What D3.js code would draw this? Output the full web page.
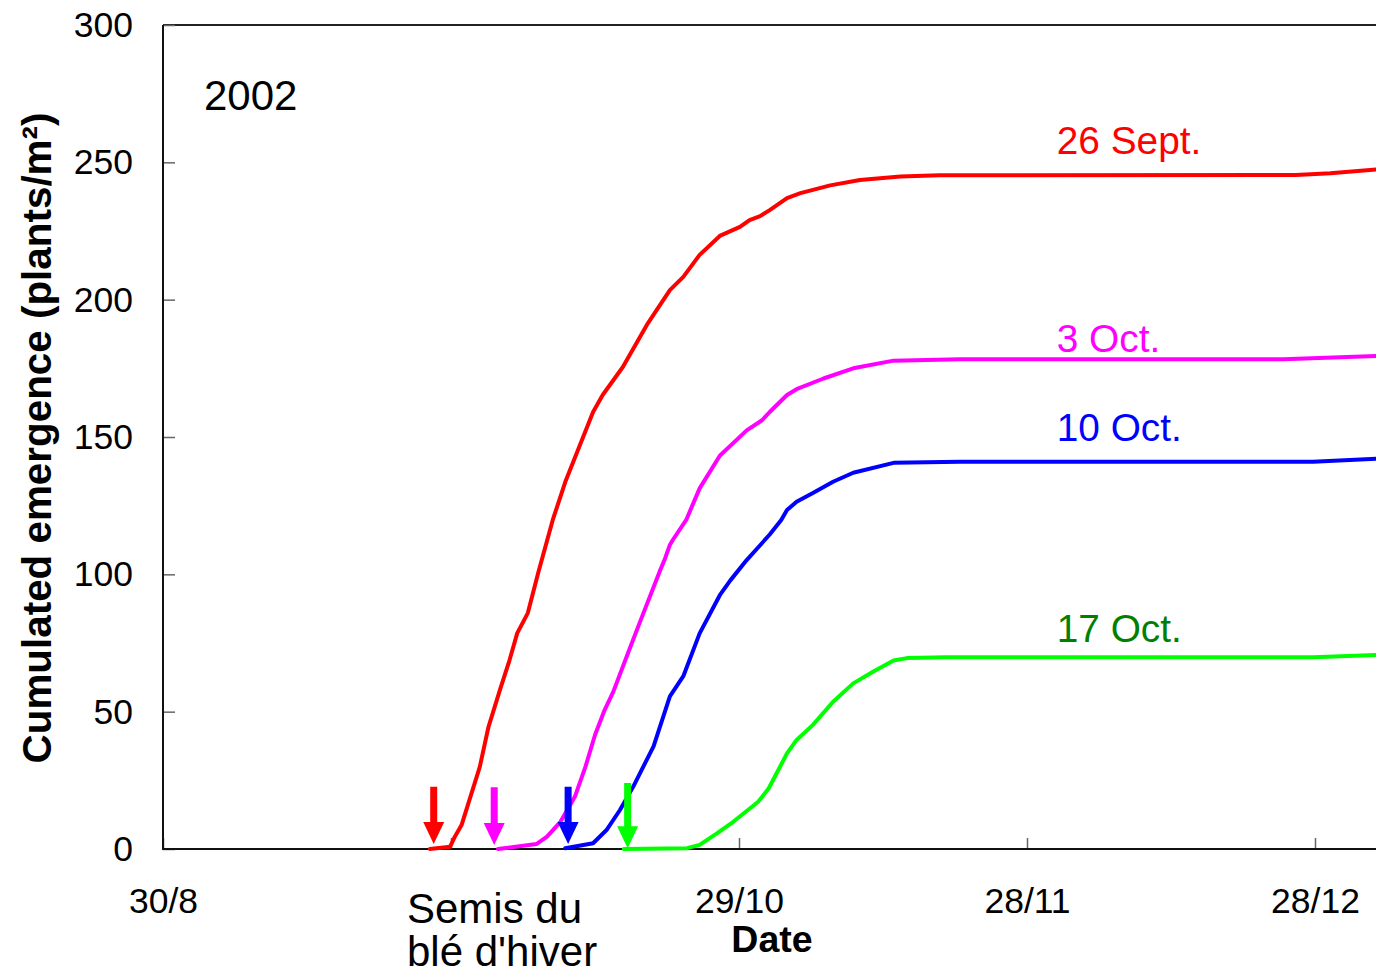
<!DOCTYPE html>
<html>
<head>
<meta charset="utf-8">
<script src="https://cdn.jsdelivr.net/npm/d3@7"></script>
<style>
  html, body { margin: 0; padding: 0; background: #fff; }
  svg { display: block; font-family: Arial, "Liberation Sans", sans-serif; }
</style>
</head>
<body>
<svg id="chart" width="1376" height="978"></svg>
<script>
// Cumulated emergence of plants (plants/m²) after winter wheat sowing, 2002.
// x values are days after 30 August 2002.

const xTickDays   = [0, 30, 60, 90, 120];
const xTickLabels = ["30/8", "", "29/10", "28/11", "28/12"];
const yTicks      = [0, 50, 100, 150, 200, 250, 300];

const seriesNames  = ["26 Sept.", "3 Oct.", "10 Oct.", "17 Oct."];
const lineColors   = ["#ff0000", "#ff00ff", "#0000ff", "#00ff00"];
const labelColors  = ["#ff0000", "#ff00ff", "#0000ff", "#008000"];

// sowing 26 Sept.
const sept26Days   = [27.8, 29.9, 30.4, 31.1, 33.0, 33.9, 35.1, 36.1, 36.9, 38.0, 39.1, 40.6, 41.9, 44.8, 45.8, 47.9, 50.4, 52.8, 54.2, 55.9, 58.0, 60.1, 61.1, 62.2, 63.2, 65.0, 66.4, 69.5, 72.6, 76.8, 80.9, 118.0, 121.6, 126.4];
const sept26Values = [0, 0.8, 4.5, 8.7, 29.9, 44.4, 57.9, 68.8, 78.6, 85.9, 100.8, 119.8, 133.6, 159.1, 165.3, 175.5, 190.8, 203.5, 208.3, 216.3, 223.2, 226.5, 229.0, 230.4, 232.6, 237.0, 238.8, 241.6, 243.6, 244.8, 245.3, 245.4, 246.0, 247.4];

// sowing 3 Oct.
const oct3Days   = [34.9, 38.9, 40.0, 41.4, 42.9, 44.0, 45.0, 46.0, 46.9, 48.6, 49.9, 51.8, 52.3, 52.8, 53.1, 54.5, 55.9, 58.0, 60.8, 62.4, 63.2, 65.0, 66.0, 68.8, 71.9, 76.1, 83.0, 116.7, 126.4];
const oct3Values = [0, 1.8, 4.5, 9.9, 19.0, 29.9, 41.5, 50.6, 57.2, 72.8, 84.6, 101.6, 105.8, 110.7, 112.5, 119.8, 131.3, 143.2, 152.4, 156.1, 159.1, 165.3, 167.4, 171.3, 175.0, 177.8, 178.3, 178.3, 179.5];

// sowing 10 Oct.
const oct10Days   = [41.9, 44.8, 46.2, 47.6, 49.0, 51.1, 52.8, 54.2, 55.9, 58.0, 59.1, 60.8, 62.2, 63.2, 64.4, 65.0, 66.0, 67.7, 69.8, 71.9, 76.1, 83.0, 119.8, 126.4];
const oct10Values = [0.3, 2.1, 6.9, 14.2, 22.8, 37.4, 55.6, 62.9, 78.5, 92.4, 97.8, 105.2, 110.6, 114.5, 119.8, 123.4, 126.4, 129.6, 133.7, 137.0, 140.6, 141.0, 141.0, 142.1];

// sowing 17 Oct.
const oct17Days   = [48.0, 54.6, 55.9, 57.7, 59.4, 62.0, 63.1, 65.0, 66.0, 67.7, 69.8, 71.9, 74.0, 76.1, 77.5, 81.6, 119.8, 126.4];
const oct17Values = [0, 0.3, 1.5, 5.7, 9.9, 17.2, 22.1, 34.8, 39.7, 45.2, 53.6, 60.3, 64.6, 68.6, 69.5, 69.8, 69.8, 70.6];

// sowing-date arrows (day, top value, tip value)
const arrowDays = [28.2, 34.5, 42.2, 48.4];
const arrowTops = [22.7, 22.5, 22.7, 24.0];
const arrowTips = [1.8, 1.5, 1.8, 0.3];

// series label anchors (day, value at text baseline)
const labelDay    = 93.1;
const labelValues = [253.0, 181.1, 148.7, 75.5];

const seriesDays   = [sept26Days, oct3Days, oct10Days, oct17Days];
const seriesValues = [sept26Values, oct3Values, oct10Values, oct17Values];

const svg = d3.select("#chart");
const W = 1376, H = 978;
const plotLeft = 163, plotTop = 25, plotBottom = 849;
const pxPerDay = 9.6;

svg.append("rect").attr("width", W).attr("height", H).attr("fill", "#fff");

const x = d3.scaleLinear().domain([0, 127]).range([plotLeft, plotLeft + 127 * pxPerDay]);
const y = d3.scaleLinear().domain([0, 300]).range([plotBottom, plotTop]);

// plot frame
svg.append("line").attr("x1", plotLeft).attr("x2", W).attr("y1", plotTop).attr("y2", plotTop)
  .attr("stroke", "#222").attr("stroke-width", 2);

// y axis
const yAxis = svg.append("g").attr("transform", `translate(${plotLeft},0)`)
  .call(d3.axisLeft(y).tickValues(yTicks).tickSize(-12).tickPadding(30));
yAxis.select(".domain").remove();
yAxis.selectAll(".tick line").attr("stroke", "#666").attr("stroke-width", 1.5);
yAxis.selectAll(".tick text").attr("font-size", 35.5).attr("fill", "#000")
  .attr("font-family", "Arial, 'Liberation Sans', sans-serif");

// x axis
const xAxis = svg.append("g").attr("transform", `translate(0,${plotBottom})`)
  .call(d3.axisBottom(x).tickValues(xTickDays).tickSize(-11).tickPadding(39)
    .tickFormat((d, i) => xTickLabels[i]));
xAxis.select(".domain").remove();
xAxis.selectAll(".tick line").attr("stroke", "#666").attr("stroke-width", 1.5);
xAxis.selectAll(".tick text").attr("font-size", 35.5).attr("fill", "#000")
  .attr("dy", 0).attr("y", 64).attr("font-family", "Arial, 'Liberation Sans', sans-serif");

// axis lines
svg.append("line").attr("x1", plotLeft).attr("x2", plotLeft).attr("y1", plotTop).attr("y2", plotBottom + 1)
  .attr("stroke", "#111").attr("stroke-width", 2);
svg.append("line").attr("x1", plotLeft).attr("x2", W).attr("y1", plotBottom).attr("y2", plotBottom)
  .attr("stroke", "#111").attr("stroke-width", 2);

// curves
const line = d3.line().x(d => x(d[0])).y(d => y(d[1]));
seriesDays.forEach((days, i) => {
  const pts = days.map((d, j) => [d, seriesValues[i][j]]);
  svg.append("path").datum(pts)
    .attr("d", line)
    .attr("fill", "none")
    .attr("stroke", lineColors[i])
    .attr("stroke-width", 4)
    .attr("stroke-linejoin", "round")
    .attr("stroke-linecap", "round");
});

// sowing arrows
arrowDays.forEach((d, i) => {
  const cx = x(d), yt = y(arrowTops[i]), yp = y(arrowTips[i]), yh = yp - 22;
  const path = `M${cx - 3.5},${yt} L${cx + 3.5},${yt} L${cx + 3.5},${yh} L${cx + 10.5},${yh} ` +
               `L${cx},${yp} L${cx - 10.5},${yh} L${cx - 3.5},${yh} Z`;
  svg.append("path").attr("d", path).attr("fill", lineColors[i]);
});

// series labels
seriesNames.forEach((name, i) => {
  svg.append("text").attr("x", x(labelDay)).attr("y", y(labelValues[i]))
    .attr("font-size", 38.8).attr("fill", labelColors[i]).text(name);
});

// year
svg.append("text").attr("x", 204).attr("y", 110).attr("font-size", 42).attr("fill", "#000").text("2002");

// sowing note under the axis
svg.append("text").attr("x", 407).attr("y", 923).attr("font-size", 42).attr("fill", "#000").text("Semis du");
svg.append("text").attr("x", 407).attr("y", 966).attr("font-size", 42).attr("fill", "#000").text("blé d'hiver");

// axis titles
svg.append("text").attr("x", 772).attr("y", 952).attr("text-anchor", "middle")
  .attr("font-size", 37.5).attr("font-weight", "bold").attr("fill", "#000").text("Date");
svg.append("text").attr("transform", "translate(51,438) rotate(-90)").attr("text-anchor", "middle")
  .attr("font-size", 40.4).attr("font-weight", "bold").attr("fill", "#000")
  .text("Cumulated emergence (plants/m²)");
</script>
</body>
</html>
